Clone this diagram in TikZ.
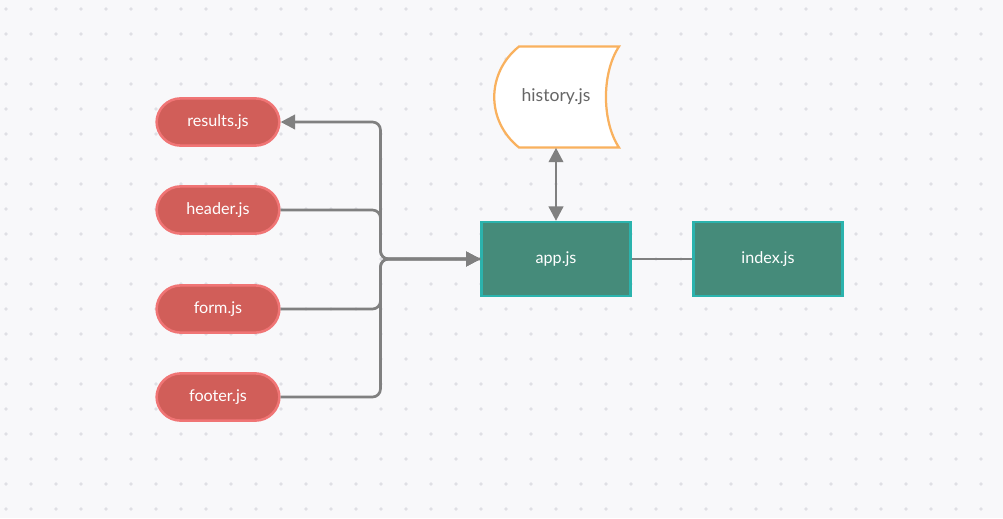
\documentclass[tikz,border=0pt]{standalone}
\usepackage{fontspec}
\setmainfont{Lato}
\usetikzlibrary{positioning,arrows.meta,calc}

\definecolor{bggray}{HTML}{F8F8FA}
\definecolor{dotgray}{HTML}{DFDFE4}
\definecolor{modred}{HTML}{D15E59}
\definecolor{modedge}{HTML}{F07575}
\definecolor{coregreen}{HTML}{458B7A}
\definecolor{coreedge}{HTML}{2BB3AD}
\definecolor{storeedge}{HTML}{F9B15E}
\definecolor{linkgray}{HTML}{808080}

\begin{document}
\begin{tikzpicture}[>={Triangle[length=0.36cm,width=0.36cm]}, node distance=2.2cm and 5.3cm, on grid, font=\fontsize{11.5}{14}\selectfont,
	module/.style={draw=modedge, fill=modred, text=white, line width=1.8pt, rounded corners=0.6cm, minimum width=3.07cm, minimum height=1.18cm},
	core/.style={draw=coreedge, fill=coregreen, text=white, line width=1.6pt, minimum width=3.72cm, minimum height=1.85cm},
	store/.style={text=black!60, inner sep=0pt, minimum width=2.5cm, minimum height=2.525cm, font=\fontsize{12.5}{15}\selectfont},
	link/.style={draw=linkgray, line width=1.9pt, rounded corners=0.2cm}]
	\useasboundingbox (0,0) rectangle (25.075,-12.95);
	\fill[bggray] (0,0) rectangle (25.075,-12.95);
	% dot grid
	\foreach \i in {0,...,39}
		\foreach \j in {0,...,20}
			\fill[dotgray] (0.15+0.625*\i,-0.225-0.625*\j) circle (0.045);

	\node[module] (A) at (5.45,-3.05) {results.js};
	\node[module] (B) [below=of A] {header.js};
	\node[module] (C) [below=2.475cm of B] {form.js};
	\node[module] (D) [below=of C] {footer.js};
	\node[core] (E) [below right=3.425cm and 8.45cm of A] {app.js};
	\node[core] (F) [right=of E] {index.js};

	% history shape
	\coordinate[above=4.05cm of E] (Gc);
	\draw[draw=storeedge, fill=white, line width=1.6pt]
		($(Gc)+(-0.925,1.2625)$) -- ($(Gc)+(1.575,1.2625)$)
		.. controls ($(Gc)+(1.14,0.6)$) and ($(Gc)+(1.14,-0.6)$) .. ($(Gc)+(1.575,-1.2625)$)
		-- ($(Gc)+(-0.925,-1.2625)$)
		.. controls ($(Gc)+(-1.75,-0.6)$) and ($(Gc)+(-1.75,0.6)$) .. cycle;
	\node[store] (G) at (Gc) {history.js};

	\coordinate[left=2.5cm of E.west] (T);

	\path[link, ->] (E.west) -- (T) |- (A.east);
	\path[link, ->] (B.east) -| (T) -- (E.west);
	\path[link, ->] (C.east) -| (T) -- (E.west);
	\path[link, ->] (D.east) -| (T) -- (E.west);
	\path[link, <->] (E.north) -- (G.south);
	\path[link] (E) -- (F);
\end{tikzpicture}
\end{document}
